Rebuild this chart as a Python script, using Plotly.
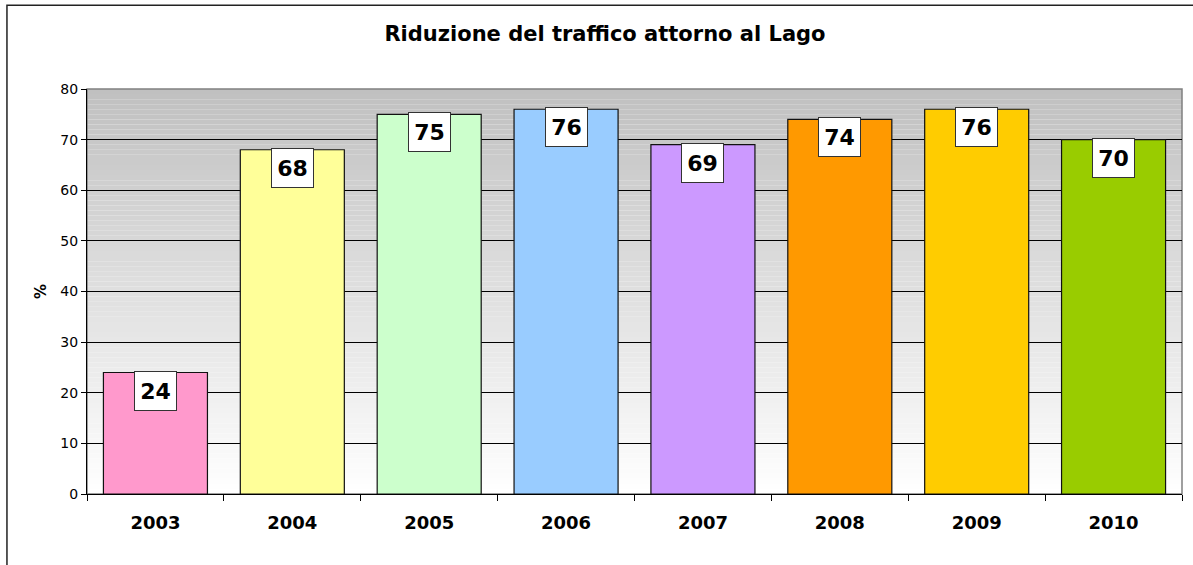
import plotly.graph_objects as go

# data
years = ["2003", "2004", "2005", "2006", "2007", "2008", "2009", "2010"]
reduction = [24, 68, 75, 76, 69, 74, 76, 70]
bar_colors = ["#FF99CC", "#FFFF99", "#CCFFCC", "#99CCFF",
              "#CC99FF", "#FF9900", "#FFCC00", "#99CC00"]

font = "DejaVu Sans"

fig = go.Figure(go.Bar(
    x=years,
    y=reduction,
    marker=dict(color=bar_colors, line=dict(color="#111111", width=1.2)),
    hoverinfo="x+y",
))

# value labels in white boxes sitting on top of each bar
# (category axis -> annotation x given as the category index)
for i, v in enumerate(reduction):
    fig.add_annotation(
        x=i, y=v, yanchor="top", yshift=2,
        text=f"<b>{v}</b>", showarrow=False,
        font=dict(family=font, size=22, color="black"),
        bgcolor="white", bordercolor="#333333", borderwidth=1,
        width=41, height=38, borderpad=0,
    )

# grey-to-white gradient behind the plot (Excel style)
steps = 80
for i in range(steps):
    t = (i + 0.5) / steps
    c = int(round(255 - (255 - 192) * t))
    fig.add_shape(type="rect", xref="paper", yref="y",
                  x0=0, x1=1, y0=i * 80 / steps, y1=(i + 1) * 80 / steps,
                  fillcolor=f"rgb({c},{c},{c})", line_width=0, layer="below")

# grey frame of plot area (top/right)
fig.add_shape(type="rect", xref="paper", yref="paper", x0=0, x1=1, y0=0, y1=1,
              line=dict(color="#808080", width=1.5), layer="below")

# outer chart frame (left and top edges visible in the window)
fig.add_shape(type="rect", xref="paper", yref="paper",
              x0=-0.0731, x1=1.05, y0=-0.3, y1=1.207,
              line=dict(color="#222222", width=1.5), fillcolor="rgba(0,0,0,0)")

fig.update_layout(
    width=1193, height=565,
    margin=dict(l=87, r=11, t=89, b=71, autoexpand=False),
    paper_bgcolor="white",
    plot_bgcolor="rgba(0,0,0,0)",
    bargap=0.24,
    showlegend=False,
    title=dict(text="<b>Riduzione del traffico attorno al Lago</b>",
               x=605 / 1193, xref="container", xanchor="center",
               y=1 - 34 / 565, yanchor="middle",
               font=dict(family=font, size=21, color="black")),
    font=dict(family=font, color="black"),
)

fig.update_xaxes(
    type="category", range=[-0.5, 7.5], tickson="boundaries",
    ticks="outside", ticklen=6, tickcolor="black", tickangle=0,
    showline=True, linecolor="black", linewidth=1,
    showgrid=False, automargin=False, ticklabelstandoff=12,
    tickfont=dict(family=font, size=18, color="black"),
    tickprefix="<b>", ticksuffix="</b>",
)

fig.update_yaxes(
    range=[0, 80], dtick=10,
    ticks="outside", ticklen=5, tickcolor="black",
    showline=True, linecolor="black", linewidth=1,
    showgrid=True, gridcolor="black", gridwidth=1,
    zeroline=False, automargin=False,
    tickfont=dict(family=font, size=14, color="black"),
    title=dict(text="<b>%</b>", font=dict(family=font, size=15, color="black"),
               standoff=10),
)

# remove the default 8px page margin so the figure starts at the window corner
fig.write_html("out.html", config={"displayModeBar": False},
               post_script="document.body.style.margin='0px';")
